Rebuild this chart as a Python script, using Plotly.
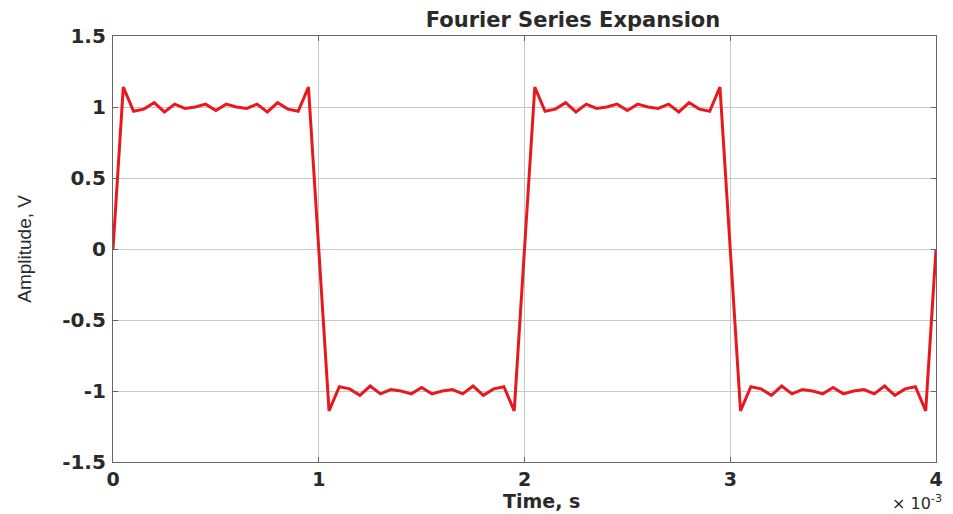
import plotly.graph_objects as go

# Sample times in milliseconds (axis is in seconds, shown as x 10^-3)
time_ms = [
    0.00, 0.05, 0.10, 0.15, 0.20, 0.25, 0.30, 0.35, 0.40, 0.45,
    0.50, 0.55, 0.60, 0.65, 0.70, 0.75, 0.80, 0.85, 0.90, 0.95,
    1.00, 1.05, 1.10, 1.15, 1.20, 1.25, 1.30, 1.35, 1.40, 1.45,
    1.50, 1.55, 1.60, 1.65, 1.70, 1.75, 1.80, 1.85, 1.90, 1.95,
    2.00, 2.05, 2.10, 2.15, 2.20, 2.25, 2.30, 2.35, 2.40, 2.45,
    2.50, 2.55, 2.60, 2.65, 2.70, 2.75, 2.80, 2.85, 2.90, 2.95,
    3.00, 3.05, 3.10, 3.15, 3.20, 3.25, 3.30, 3.35, 3.40, 3.45,
    3.50, 3.55, 3.60, 3.65, 3.70, 3.75, 3.80, 3.85, 3.90, 3.95,
    4.00,
]

amplitude = [
    0.0, 1.14, 0.97, 0.985, 1.03, 0.965, 1.02, 0.99, 1.0, 1.02,
    0.975, 1.02, 1.0, 0.99, 1.02, 0.965, 1.03, 0.985, 0.97, 1.14,
    0.0, -1.14, -0.97, -0.985, -1.03, -0.965, -1.02, -0.99, -1.0, -1.02,
    -0.975, -1.02, -1.0, -0.99, -1.02, -0.965, -1.03, -0.985, -0.97, -1.14,
    0.0, 1.14, 0.97, 0.985, 1.03, 0.965, 1.02, 0.99, 1.0, 1.02,
    0.975, 1.02, 1.0, 0.99, 1.02, 0.965, 1.03, 0.985, 0.97, 1.14,
    0.0, -1.14, -0.97, -0.985, -1.03, -0.965, -1.02, -0.99, -1.0, -1.02,
    -0.975, -1.02, -1.0, -0.99, -1.02, -0.965, -1.03, -0.985, -0.97, -1.14,
    0.0,
]

x_tick_vals = [0, 1e-3, 2e-3, 3e-3, 4e-3]
x_tick_text = ["0", "1", "2", "3", "4"]
y_tick_vals = [-1.5, -1, -0.5, 0, 0.5, 1, 1.5]
y_tick_text = ["-1.5", "-1", "-0.5", "0", "0.5", "1", "1.5"]

time_s = [t * 1e-3 for t in time_ms]

# The page body adds an 8px margin; work in page pixels and convert.
OFF = 8
W, H = 953 - OFF, 514 - OFF
# plot area in page pixels: left 113, right 943, top 36, bottom 462
ML = 113 - OFF
MT = 36 - OFF
MR = W - (943 - OFF)
MB = H - (462 - OFF)
PW = W - ML - MR
PH = H - MT - MB

def px_to_paper_x(px):
    return ((px - OFF) - ML) / PW

def px_to_paper_y(py):
    return (H - MB - (py - OFF)) / PH

FONT = "DejaVu Sans"
TXT = "#2a2a2a"

fig = go.Figure()
fig.add_trace(go.Scatter(
    x=time_s, y=amplitude, mode="lines",
    line=dict(color="#e8191e", width=3),
    showlegend=False, hoverinfo="x+y",
))

axis_common = dict(
    showgrid=True, gridcolor="#c8c8c8", gridwidth=1,
    showline=True, linecolor="#666666", linewidth=1.2, mirror="ticks",
    ticks="inside", ticklen=5, tickcolor="#666666",
    zeroline=False,
)

fig.update_xaxes(range=[0, 4e-3], tickmode="array", tickvals=x_tick_vals,
                 ticktext=x_tick_text, ticklabelstandoff=0,
                 tickfont=dict(family=FONT, size=19, color=TXT, weight="bold"),
                 **axis_common)
fig.update_yaxes(range=[-1.5, 1.5], tickmode="array", tickvals=y_tick_vals,
                 ticktext=y_tick_text, ticklabelstandoff=2,
                 tickfont=dict(family=FONT, size=20, color=TXT, weight="bold"),
                 **axis_common)

fig.update_layout(
    width=W, height=H,
    margin=dict(l=ML, r=MR, t=MT, b=MB, pad=0),
    paper_bgcolor="white", plot_bgcolor="white",
    title=dict(text="Fourier Series Expansion", xref="container", yref="container",
               x=(573 - OFF) / W, y=(H - (20 - OFF)) / H, xanchor="center", yanchor="middle",
               font=dict(family=FONT, size=21, color=TXT, weight="bold")),
    annotations=[
        dict(text="Time, s", xref="paper", yref="paper",
             x=px_to_paper_x(545), y=px_to_paper_y(501),
             xanchor="center", yanchor="middle", showarrow=False,
             font=dict(family=FONT, size=19, color=TXT, weight="bold")),
        dict(text="Amplitude, V", xref="paper", yref="paper",
             x=px_to_paper_x(23), y=px_to_paper_y(249), textangle=-90,
             xanchor="center", yanchor="middle", showarrow=False,
             font=dict(family="Liberation Sans", size=19, color=TXT)),
        dict(text="× 10<sup>-3</sup>", xref="paper", yref="paper",
             x=px_to_paper_x(951), y=px_to_paper_y(502),
             xanchor="right", yanchor="middle", showarrow=False,
             font=dict(family=FONT, size=16, color=TXT)),
    ],
)

fig.write_html("out.html")
